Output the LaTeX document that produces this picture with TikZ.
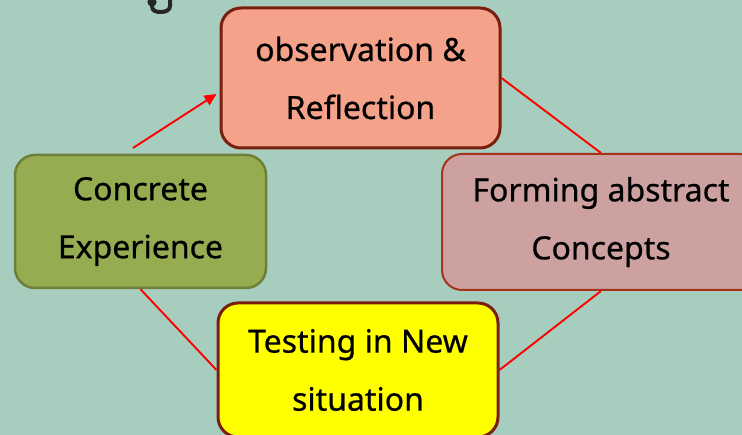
\documentclass[tikz,border=0pt]{standalone}
\usepackage{fontspec}
\setmainfont[FakeBold=0.6]{Noto Sans}
\usetikzlibrary{arrows.meta,calc}
\definecolor{bgc}{HTML}{A7CDBF}
\definecolor{obsfill}{HTML}{F4A28A}
\definecolor{obsdraw}{HTML}{7A1F0E}
\definecolor{cefill}{HTML}{95AC50}
\definecolor{cedraw}{HTML}{6F7F38}
\definecolor{fafill}{HTML}{CCA19F}
\definecolor{fadraw}{HTML}{A3341C}
\definecolor{tsfill}{HTML}{FFFF00}
\definecolor{lnred}{HTML}{FF0000}
\tikzset{
  box/.style={rounded corners=20pt, align=center, inner sep=0pt,
    font=\fontsize{32}{58}\selectfont, text=black},
  link/.style={draw=lnred, line width=1.9pt},
}
\begin{document}
\begin{tikzpicture}[x=1pt,y=1pt]
\useasboundingbox (0,0) rectangle (742,-435);
\fill[bgc] (0,0) rectangle (742,-435);
\clip (0,0) rectangle (742,-435);
% partial glyph at top
\draw[line width=4pt, color=black!85, line cap=round] (152,1) -- (152,-6) .. controls (152,-11) and (156,-12) .. (161,-12) .. controls (166,-12) and (170,-10) .. (170,-6) -- (170,1);
\draw[line width=3pt, color=black!85] (152,-2) circle (3pt);
% nodes
\node[box, fill=obsfill, draw=obsdraw, line width=3pt, minimum width=279pt, minimum height=140pt] (obs) at (360.5,-78) {observation \&\\Reflection};
\node[box, fill=cefill, draw=cedraw, line width=2.5pt, minimum width=251pt, minimum height=133pt] (ce) at (140.5,-221.5) {Concrete\\Experience};
\node[box, fill=fafill, draw=fadraw, line width=2pt, minimum width=318pt, minimum height=136pt] (fa) at (601,-222) {Forming abstract\\Concepts};
\node[box, fill=tsfill, draw=obsdraw, line width=3pt, minimum width=280pt, minimum height=134pt] (ts) at (358,-370) {Testing in New\\situation};
% connectors
\coordinate (a1) at (133,-148);
\draw[link, -{Triangle[length=12pt,width=11pt]}] (a1) -- ($(obs.west)+(-3,-16)$);
\draw[link] (obs.east) -- (fa.north);
\draw[link] (fa.south) -- (ts.east);
\draw[link] (ce.south) -- (ts.west);
\end{tikzpicture}
\end{document}
